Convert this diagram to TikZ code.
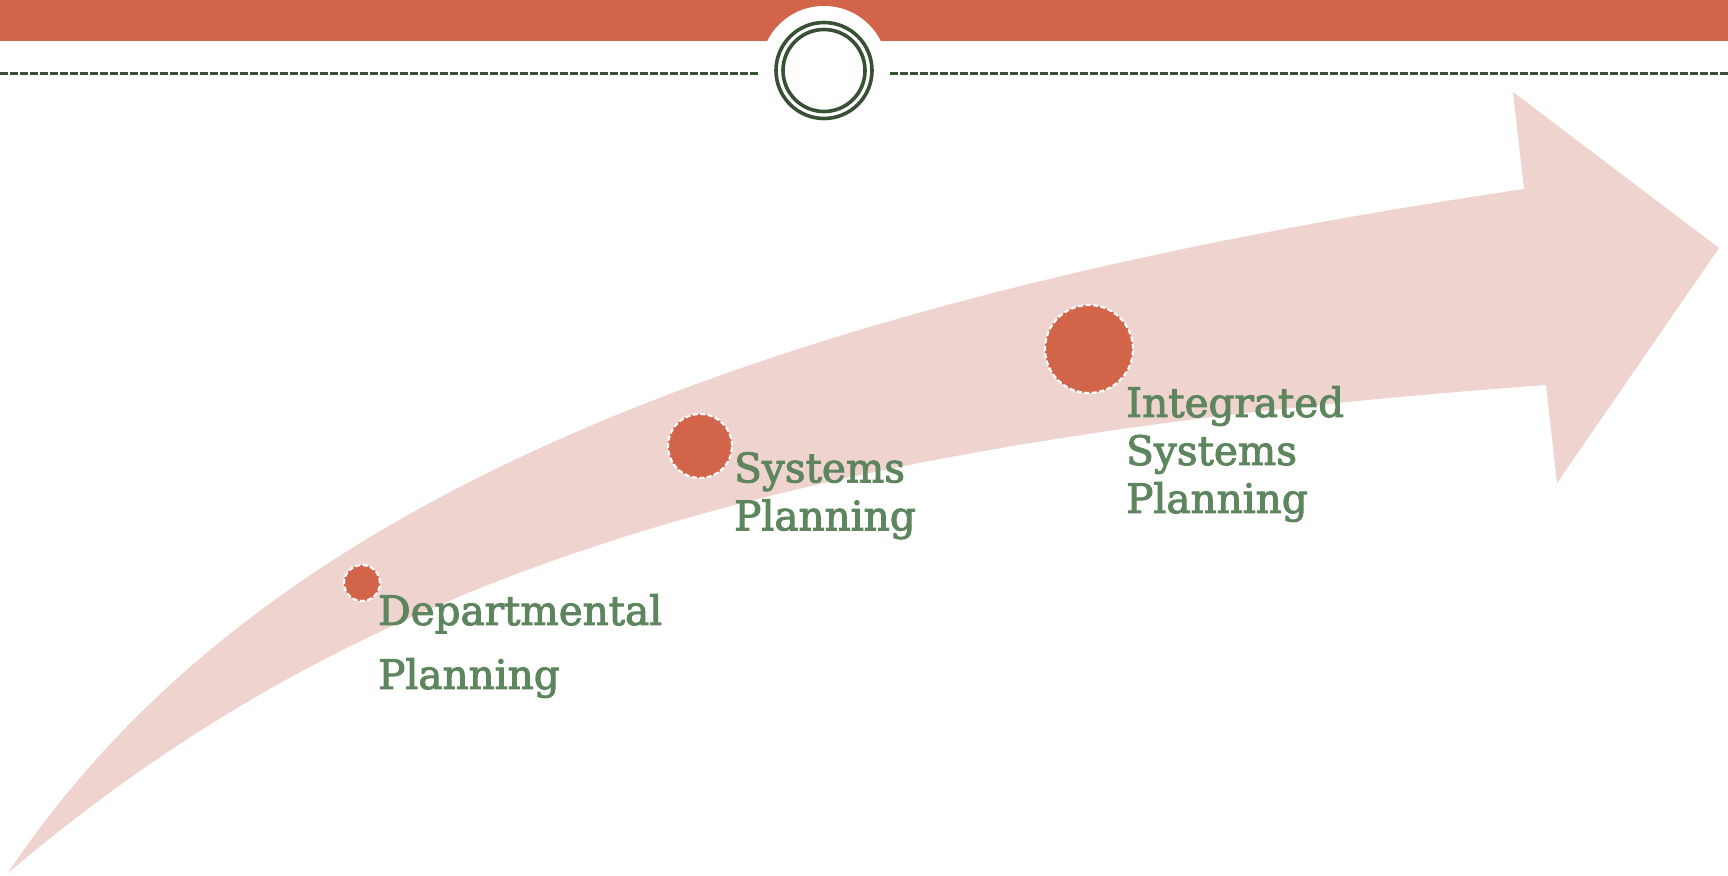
\documentclass[tikz,border=0pt]{standalone}
\usepackage{fontspec}
\setmainfont{DejaVu Serif}
\newfontfamily\lblfont[FakeBold=2.5]{DejaVu Serif}
\definecolor{barorange}{RGB}{210,100,74}
\definecolor{arrowpink}{RGB}{239,211,207}
\definecolor{txtgreen}{RGB}{94,134,94}
\definecolor{ringgreen}{RGB}{56,80,52}
\tikzset{
  dot/.style={circle, fill=barorange, draw=white, line width=2.2pt, dash pattern=on 5pt off 2.5pt, inner sep=0pt},
  lbl/.style={anchor=north west, inner sep=0pt, align=left, text=txtgreen},
  rule/.style={draw=ringgreen, line width=3pt, dash pattern=on 7.5pt off 2.5pt},
  ring/.style={draw=ringgreen, line width=3.6pt}
}
\begin{document}
\begin{tikzpicture}[x=1pt,y=-1pt]
\useasboundingbox (0,0) rectangle (1728,875);
% top bar
\fill[barorange] (0,0) rectangle (1728,41.5);
\fill[white] (824,69.4) circle[radius=63.4];
\draw[ring] (824,70.5) circle[radius=48];
\draw[ring] (824,70.5) circle[radius=41];
\coordinate (l0) at (0,73.5);
\coordinate (l1) at (758,73.5);
\coordinate (r0) at (890,73.5);
\coordinate (r1) at (1728,73.5);
\draw[rule] (l0) -- (l1);
\draw[rule] (r0) -- (r1);
% curved arrow
\fill[arrowpink] (8,873) .. controls (225,548) and (650,318) .. (1524,189)
  -- (1513,92) -- (1719,248) -- (1557,483) -- (1546,385)
  .. controls (746,443) and (345,587) .. (8,873) -- cycle;
% dots
\node[dot, minimum size=36pt] (d1) at (362,583) {};
\node[dot, minimum size=64pt] (d2) at (700,446) {};
\node[dot, minimum size=88pt] (d3) at (1089,349) {};
% labels
\node[lbl, font=\lblfont\fontsize{40.5}{64}\selectfont] (t1) at (378,594) {Departmental\\Planning};
\node[lbl, font=\lblfont\fontsize{40.5}{48}\selectfont] (t2) at (734,452) {Systems\\Planning};
\node[lbl, font=\lblfont\fontsize{40.5}{48}\selectfont] (t3) at (1126,386) {Integrated\\Systems\\Planning};
\end{tikzpicture}
\end{document}
